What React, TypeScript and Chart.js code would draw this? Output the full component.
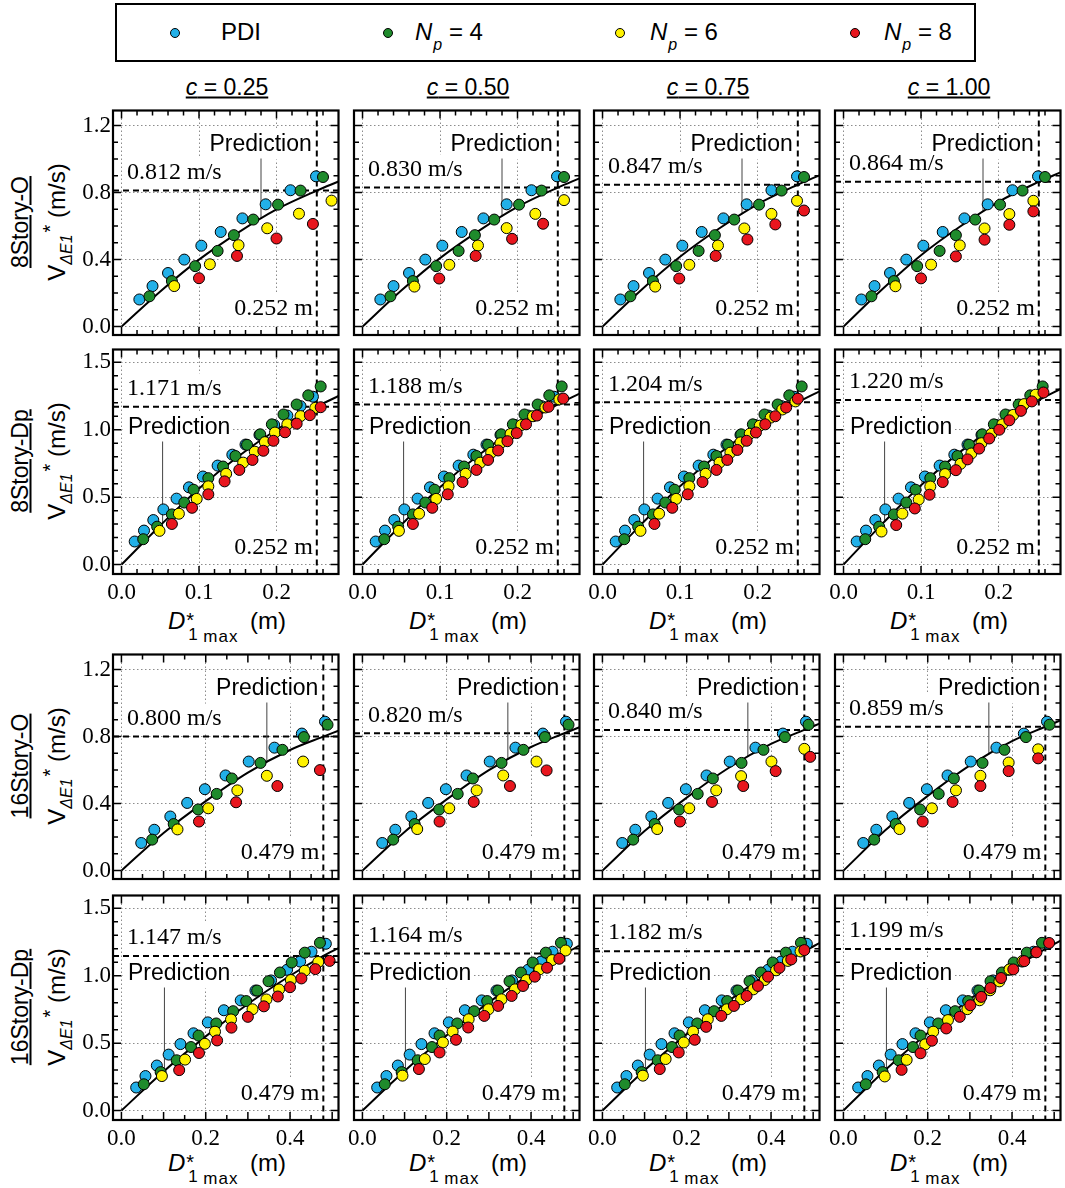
import React, { useEffect, useRef } from 'react';
import { Chart, registerables } from 'chart.js';

Chart.register(...registerables);

// ---------- data ----------
const columnLabels = ['0.25', '0.50', '0.75', '1.00'];
const rowNames = ['8Story-O', '8Story-Dp', '16Story-O', '16Story-Dp'];

// target velocity per row / column (m/s) and target displacement per row (m)
const targetV = [
  [0.812, 0.830, 0.847, 0.864],
  [1.171, 1.188, 1.204, 1.220],
  [0.800, 0.820, 0.840, 0.859],
  [1.147, 1.164, 1.182, 1.199],
];
const targetD = [0.252, 0.252, 0.479, 0.479];
const leaderX = [0.18, 0.053, 0.345, 0.102];

// prediction curve
const curveX8 = [0, 0.05, 0.1, 0.15, 0.2, 0.252, 0.28];
const curveX16 = [0, 0.1, 0.2, 0.3, 0.4, 0.479, 0.515];
const curve8O = [
  [0, 0.21, 0.40, 0.56, 0.70, 0.812, 0.866],
  [0, 0.215, 0.409, 0.572, 0.715, 0.830, 0.885],
  [0, 0.219, 0.417, 0.584, 0.730, 0.847, 0.903],
  [0, 0.223, 0.426, 0.596, 0.745, 0.864, 0.921],
];
const curve8D = [
  [0, 0.29, 0.565, 0.80, 1.0, 1.171, 1.25],
  [0, 0.294, 0.573, 0.812, 1.015, 1.188, 1.268],
  [0, 0.298, 0.581, 0.822, 1.028, 1.204, 1.285],
  [0, 0.302, 0.589, 0.834, 1.042, 1.220, 1.302],
];
const curve16O = [
  [0, 0.225, 0.415, 0.585, 0.72, 0.80, 0.835],
  [0, 0.231, 0.425, 0.600, 0.738, 0.82, 0.856],
  [0, 0.236, 0.436, 0.614, 0.756, 0.84, 0.877],
  [0, 0.242, 0.446, 0.628, 0.773, 0.859, 0.897],
];
const curve16D = [
  [0, 0.29, 0.55, 0.79, 1.0, 1.147, 1.205],
  [0, 0.294, 0.558, 0.802, 1.015, 1.164, 1.223],
  [0, 0.299, 0.567, 0.814, 1.03, 1.182, 1.242],
  [0, 0.303, 0.575, 0.826, 1.045, 1.199, 1.26],
];

// 8Story-O
const pdi8O_x = [0.023, 0.040, 0.060, 0.081, 0.103, 0.128, 0.156, 0.186, 0.218, 0.251];
const pdi8O_y = [0.162, 0.242, 0.320, 0.400, 0.483, 0.565, 0.646, 0.730, 0.814, 0.897];
const np4_8O_x = [0.036, 0.065, 0.095, 0.124, 0.145, 0.170, 0.202, 0.231, 0.260];
const np4_8O_y = [0.181, 0.272, 0.361, 0.452, 0.546, 0.639, 0.728, 0.812, 0.893];
const np6_8O_x = [
  [0.068, 0.114, 0.151, 0.188, 0.229, 0.271],
  [0.067, 0.112, 0.149, 0.186, 0.223, 0.260],
  [0.068, 0.112, 0.149, 0.183, 0.218, 0.251],
  [0.067, 0.113, 0.150, 0.182, 0.214, 0.245],
];
const np6_8O_y = [
  [0.242, 0.372, 0.486, 0.587, 0.674, 0.752],
  [0.239, 0.369, 0.484, 0.588, 0.673, 0.755],
  [0.239, 0.369, 0.484, 0.586, 0.673, 0.751],
  [0.241, 0.370, 0.485, 0.586, 0.672, 0.751],
];
const np8_8O_x = [
  [0.100, 0.149, 0.200, 0.247],
  [0.099, 0.146, 0.193, 0.233],
  [0.099, 0.146, 0.187, 0.223, 0.260],
  [0.100, 0.145, 0.182, 0.214, 0.245],
];
const np8_8O_y = [
  [0.289, 0.422, 0.526, 0.613],
  [0.287, 0.422, 0.524, 0.614],
  [0.287, 0.422, 0.520, 0.610, 0.693],
  [0.288, 0.419, 0.519, 0.608, 0.688],
];

// 8Story-Dp
const pdi8D_x = [0.017, 0.029, 0.041, 0.054, 0.071, 0.087, 0.105, 0.124, 0.143, 0.160, 0.178, 0.197, 0.214, 0.231, 0.247];
const pdi8D_y = [0.171, 0.252, 0.330, 0.409, 0.489, 0.573, 0.653, 0.734, 0.815, 0.890, 0.962, 1.035, 1.105, 1.175, 1.245];
const np4_8D_x = [0.028, 0.046, 0.065, 0.081, 0.093, 0.112, 0.131, 0.147, 0.162, 0.179, 0.194, 0.209, 0.226, 0.241, 0.257];
const np4_8D_y = [0.188, 0.281, 0.372, 0.460, 0.555, 0.641, 0.727, 0.805, 0.888, 0.966, 1.040, 1.113, 1.187, 1.255, 1.321];
const np6_8D_x = [
  [0.049, 0.074, 0.097, 0.112, 0.135, 0.157, 0.172, 0.185, 0.198, 0.214, 0.231, 0.250],
  [0.047, 0.073, 0.095, 0.111, 0.133, 0.152, 0.166, 0.178, 0.191, 0.205, 0.220, 0.236, 0.254],
  [0.049, 0.073, 0.095, 0.112, 0.133, 0.151, 0.165, 0.178, 0.190, 0.203, 0.217, 0.232, 0.249],
  [0.049, 0.076, 0.097, 0.112, 0.131, 0.151, 0.165, 0.178, 0.191, 0.205, 0.219, 0.233, 0.248],
];
const np6_8D_y = [
  [0.250, 0.377, 0.487, 0.580, 0.673, 0.756, 0.837, 0.908, 0.979, 1.040, 1.101, 1.162],
  [0.250, 0.377, 0.487, 0.580, 0.673, 0.756, 0.830, 0.900, 0.968, 1.035, 1.100, 1.165, 1.225],
  [0.250, 0.377, 0.487, 0.580, 0.673, 0.756, 0.830, 0.906, 0.970, 1.030, 1.090, 1.150, 1.210],
  [0.245, 0.378, 0.482, 0.579, 0.671, 0.747, 0.824, 0.900, 0.970, 1.040, 1.110, 1.190, 1.260],
];
const np8_8D_x = [
  [0.065, 0.091, 0.112, 0.133, 0.152, 0.169, 0.183, 0.196, 0.211, 0.226, 0.243, 0.257],
  [0.065, 0.090, 0.110, 0.129, 0.147, 0.162, 0.175, 0.187, 0.199, 0.211, 0.225, 0.240, 0.259],
  [0.067, 0.090, 0.110, 0.129, 0.147, 0.161, 0.174, 0.186, 0.198, 0.210, 0.223, 0.237, 0.252],
  [0.068, 0.092, 0.111, 0.128, 0.145, 0.160, 0.175, 0.188, 0.201, 0.214, 0.229, 0.243, 0.258],
];
const np8_8D_y = [
  [0.301, 0.421, 0.521, 0.617, 0.702, 0.776, 0.844, 0.918, 0.981, 1.045, 1.108, 1.167],
  [0.301, 0.421, 0.521, 0.612, 0.702, 0.776, 0.846, 0.915, 0.975, 1.040, 1.105, 1.170, 1.231],
  [0.301, 0.421, 0.521, 0.612, 0.702, 0.776, 0.850, 0.918, 0.980, 1.040, 1.100, 1.165, 1.230],
  [0.293, 0.416, 0.518, 0.612, 0.700, 0.780, 0.860, 0.935, 1.000, 1.070, 1.140, 1.210, 1.276],
];

// 16Story-O
const pdi16O_x = [0.047, 0.078, 0.116, 0.156, 0.198, 0.247, 0.302, 0.363, 0.428, 0.483];
const pdi16O_y = [0.165, 0.244, 0.323, 0.404, 0.486, 0.568, 0.651, 0.734, 0.818, 0.889];
const np4_16O_x = [0.073, 0.124, 0.182, 0.226, 0.262, 0.330, 0.382, 0.433, 0.489];
const np4_16O_y = [0.185, 0.278, 0.365, 0.458, 0.550, 0.643, 0.721, 0.797, 0.871];
const np6_16O_x = [
  [0.133, 0.206, 0.275, 0.345, 0.431],
  [0.130, 0.206, 0.271, 0.334, 0.413],
  [0.130, 0.206, 0.270, 0.329, 0.401, 0.479],
  [0.133, 0.210, 0.267, 0.325, 0.392, 0.462],
];
const np6_16O_y = [
  [0.246, 0.372, 0.479, 0.566, 0.651],
  [0.248, 0.372, 0.479, 0.568, 0.651],
  [0.248, 0.372, 0.479, 0.564, 0.651, 0.727],
  [0.248, 0.372, 0.479, 0.566, 0.645, 0.724],
];
const np8_16O_x = [
  [0.184, 0.272, 0.370, 0.471],
  [0.183, 0.264, 0.350, 0.437],
  [0.184, 0.260, 0.334, 0.411, 0.493],
  [0.188, 0.259, 0.325, 0.392, 0.462],
];
const np8_16O_y = [
  [0.293, 0.408, 0.505, 0.600],
  [0.293, 0.410, 0.505, 0.598],
  [0.293, 0.410, 0.505, 0.594, 0.679],
  [0.293, 0.410, 0.505, 0.594, 0.670],
];

// 16Story-Dp
const pdi16D_x = [0.035, 0.057, 0.084, 0.112, 0.140, 0.171, 0.205, 0.243, 0.283, 0.318, 0.355, 0.393, 0.424, 0.451, 0.485];
const pdi16D_y = [0.171, 0.256, 0.334, 0.415, 0.493, 0.573, 0.654, 0.744, 0.817, 0.890, 0.965, 1.044, 1.105, 1.178, 1.237];
const np4_16D_x = [0.053, 0.093, 0.131, 0.165, 0.183, 0.225, 0.265, 0.296, 0.322, 0.349, 0.376, 0.404, 0.435, 0.471];
const np4_16D_y = [0.195, 0.285, 0.373, 0.471, 0.556, 0.646, 0.737, 0.812, 0.890, 0.959, 1.024, 1.098, 1.171, 1.244];
const np6_16D_x = [
  [0.096, 0.151, 0.198, 0.222, 0.260, 0.311, 0.344, 0.374, 0.402, 0.435, 0.467],
  [0.095, 0.148, 0.191, 0.214, 0.252, 0.299, 0.330, 0.362, 0.389, 0.420, 0.450, 0.482],
  [0.096, 0.150, 0.193, 0.215, 0.250, 0.295, 0.329, 0.358, 0.385, 0.412, 0.440, 0.470],
  [0.098, 0.150, 0.194, 0.213, 0.248, 0.294, 0.323, 0.348, 0.370, 0.394, 0.425, 0.457],
];
const np6_16D_y = [
  [0.256, 0.378, 0.495, 0.585, 0.676, 0.751, 0.824, 0.898, 0.968, 1.037, 1.102],
  [0.259, 0.382, 0.505, 0.586, 0.677, 0.751, 0.825, 0.899, 0.968, 1.047, 1.116, 1.187],
  [0.259, 0.382, 0.505, 0.586, 0.677, 0.751, 0.825, 0.899, 0.968, 1.040, 1.110, 1.180],
  [0.253, 0.376, 0.491, 0.585, 0.671, 0.752, 0.818, 0.892, 0.958, 1.047, 1.110, 1.174],
];
const np8_16D_x = [
  [0.137, 0.184, 0.227, 0.261, 0.300, 0.338, 0.371, 0.400, 0.427, 0.460, 0.494],
  [0.134, 0.183, 0.222, 0.251, 0.289, 0.322, 0.354, 0.381, 0.409, 0.438, 0.467],
  [0.136, 0.181, 0.219, 0.246, 0.282, 0.312, 0.342, 0.369, 0.393, 0.420, 0.448, 0.479],
  [0.138, 0.183, 0.210, 0.244, 0.276, 0.301, 0.327, 0.349, 0.374, 0.403, 0.429, 0.458, 0.488],
];
const np8_16D_y = [
  [0.300, 0.427, 0.520, 0.615, 0.695, 0.773, 0.846, 0.915, 0.980, 1.049, 1.110],
  [0.308, 0.431, 0.525, 0.616, 0.702, 0.776, 0.850, 0.924, 0.993, 1.059, 1.126],
  [0.308, 0.431, 0.525, 0.621, 0.702, 0.776, 0.850, 0.924, 0.993, 1.059, 1.121, 1.190],
  [0.302, 0.425, 0.518, 0.609, 0.695, 0.781, 0.843, 0.909, 0.983, 1.047, 1.108, 1.174, 1.243],
];

// per-row lookups
const pdiX = [pdi8O_x, pdi8D_x, pdi16O_x, pdi16D_x];
const pdiY = [pdi8O_y, pdi8D_y, pdi16O_y, pdi16D_y];
const np4X = [np4_8O_x, np4_8D_x, np4_16O_x, np4_16D_x];
const np4Y = [np4_8O_y, np4_8D_y, np4_16O_y, np4_16D_y];
const np6X = [np6_8O_x, np6_8D_x, np6_16O_x, np6_16D_x];
const np6Y = [np6_8O_y, np6_8D_y, np6_16O_y, np6_16D_y];
const np8X = [np8_8O_x, np8_8D_x, np8_16O_x, np8_16D_x];
const np8Y = [np8_8O_y, np8_8D_y, np8_16O_y, np8_16D_y];
const curveX = [curveX8, curveX8, curveX16, curveX16];
const curveY = [curve8O, curve8D, curve16O, curve16D];

// ---------- layout / style ----------
const COL_LEFT = [113, 354, 594, 835];
const ROW_TOP = [108, 347, 652, 893];
const PW = 228;
const PH = 227;
const AXW = 48;
const AXH = 34;
const PAD = 4;

const xRange = [[-0.011, 0.28], [-0.011, 0.28], [-0.02, 0.515], [-0.02, 0.515]];
const yRange = [[-0.05, 1.29], [-0.07, 1.595], [-0.05, 1.29], [-0.07, 1.595]];
const xStep = [0.1, 0.1, 0.2, 0.2];
const yStep = [0.4, 0.5, 0.4, 0.5];
const xMinor = [0.02, 0.02, 0.05, 0.05];

const BLUE = '#22b0e8';
const GREEN = '#1f8b2c';
const YELLOW = '#fff200';
const RED = '#e8161e';

const SERIF = "'Liberation Serif', 'Times New Roman', serif";
const SANS = "'Liberation Sans', Arial, sans-serif";

function curveAt(xs: number[], ys: number[], v: number) {
  for (let i = 1; i < xs.length; i++) {
    if (v <= xs[i]) {
      const t = (v - xs[i - 1]) / (xs[i] - xs[i - 1]);
      return ys[i - 1] + t * (ys[i] - ys[i - 1]);
    }
  }
  return ys[ys.length - 1];
}

const points = (xs: number[], ys: number[]) => xs.map((v, i) => ({ x: v, y: ys[i] }));

const scatterSet = (label: string, xs: number[], ys: number[], color: string) => ({
  label,
  data: points(xs, ys),
  backgroundColor: color,
  borderColor: '#000',
  borderWidth: 1,
  pointRadius: 5.5,
  pointHoverRadius: 5.5,
});

const Panel: React.FC<{ r: number; c: number }> = ({ r, c }) => {
  const chartRef = useRef<HTMLCanvasElement>(null);

  useEffect(() => {
    if (!chartRef.current) return;
    const cx = curveX[r];
    const cy = curveY[r][c];

    const annot = {
      id: 'annot',
      beforeDatasetsDraw(chart: any) {
        const { ctx, chartArea: a } = chart;
        const xs = chart.scales.x;
        const ys = chart.scales.y;
        const vPx = ys.getPixelForValue(targetV[r][c]);
        const dPx = xs.getPixelForValue(targetD[r]);
        ctx.save();
        ctx.textBaseline = 'middle';

        ctx.font = `24px ${SERIF}`;
        const vText = `${targetV[r][c].toFixed(3)} m/s`;
        const vW = ctx.measureText(vText).width;
        const vx = a.left + 14;
        const vy = vPx - 18;
        const dText = `${targetD[r].toFixed(3)} m`;
        const dW = ctx.measureText(dText).width;
        const dx = dPx - 4 - dW;
        const dy = a.bottom - 26;

        ctx.font = `23px ${SANS}`;
        const pText = 'Prediction';
        const pW = ctx.measureText(pText).width;
        const onTop = r % 2 === 0;
        const px = onTop ? dPx - 5 - pW : a.left + 15;
        const py = onTop ? a.top + 34 : a.top + 78;

        // white boxes behind labels
        ctx.fillStyle = '#fff';
        ctx.fillRect(vx - 4, vy - 15, vW + 8, 30);
        ctx.fillRect(dx - 4, dy - 15, dW + 6, 30);
        ctx.fillRect(px - 4, py - 15, pW + 6, 30);

        // dashed target lines
        ctx.strokeStyle = '#000';
        ctx.lineWidth = 2;
        ctx.setLineDash([6, 4]);
        ctx.beginPath();
        ctx.moveTo(a.left, vPx);
        ctx.lineTo(a.right, vPx);
        ctx.moveTo(dPx, a.top);
        ctx.lineTo(dPx, a.bottom);
        ctx.stroke();
        ctx.setLineDash([]);

        // leader line for "Prediction"
        const lx = xs.getPixelForValue(leaderX[r]);
        const ly = ys.getPixelForValue(curveAt(cx, cy, leaderX[r]));
        ctx.strokeStyle = '#444';
        ctx.lineWidth = 1;
        ctx.beginPath();
        ctx.moveTo(lx, py + 14);
        ctx.lineTo(lx, ly);
        ctx.stroke();

        ctx.fillStyle = '#000';
        ctx.font = `24px ${SERIF}`;
        ctx.fillText(vText, vx, vy);
        ctx.fillText(dText, dx, dy);
        ctx.font = `23px ${SANS}`;
        ctx.fillText(pText, px, py);
        ctx.restore();
      },
      afterDraw(chart: any) {
        const { ctx, chartArea: a } = chart;
        const xs = chart.scales.x;
        const ys = chart.scales.y;
        ctx.save();
        ctx.strokeStyle = '#000';
        ctx.lineWidth = 1.5;
        ctx.beginPath();
        // inward ticks, x (bottom + top)
        const xm = xMinor[r];
        for (let k = Math.ceil(xs.min / xm - 1e-9); k * xm <= xs.max + 1e-9; k++) {
          const v = k * xm;
          const p = xs.getPixelForValue(v);
          if (p < a.left + 1 || p > a.right - 1) continue;
          const major = Math.abs(v / 0.1 - Math.round(v / 0.1)) < 1e-6;
          const len = major ? 8 : 5;
          ctx.moveTo(p, a.bottom);
          ctx.lineTo(p, a.bottom - len);
          ctx.moveTo(p, a.top);
          ctx.lineTo(p, a.top + len);
        }
        // inward ticks, y (left + right)
        const ym = 0.1;
        for (let k = Math.ceil(ys.min / ym - 1e-9); k * ym <= ys.max + 1e-9; k++) {
          const v = k * ym;
          const p = ys.getPixelForValue(v);
          if (p < a.top + 1 || p > a.bottom - 1) continue;
          const st = yStep[r];
          const major = Math.abs(v / st - Math.round(v / st)) < 1e-6;
          const len = major ? 8 : 5;
          ctx.moveTo(a.left, p);
          ctx.lineTo(a.left + len, p);
          ctx.moveTo(a.right, p);
          ctx.lineTo(a.right - len, p);
        }
        ctx.stroke();
        ctx.lineWidth = 2.2;
        ctx.strokeRect(a.left, a.top, a.right - a.left, a.bottom - a.top);
        ctx.restore();
      },
    };

    const chart = new Chart(chartRef.current, {
      type: 'scatter',
      data: {
        datasets: [
          scatterSet('N_p = 8', np8X[r][c], np8Y[r][c], RED),
          scatterSet('N_p = 6', np6X[r][c], np6Y[r][c], YELLOW),
          scatterSet('N_p = 4', np4X[r], np4Y[r], GREEN),
          scatterSet('PDI', pdiX[r], pdiY[r], BLUE),
          {
            label: 'Prediction',
            data: points(cx, cy),
            showLine: true,
            borderColor: '#000',
            backgroundColor: '#000',
            borderWidth: 2,
            pointRadius: 0,
            pointHoverRadius: 0,
            cubicInterpolationMode: 'monotone',
            fill: false,
          } as any,
        ],
      },
      options: {
        animation: false,
        responsive: true,
        maintainAspectRatio: false,
        layout: { padding: { left: 0, top: PAD, right: PAD, bottom: 0 } },
        plugins: { legend: { display: false }, tooltip: { enabled: false } },
        events: [],
        scales: {
          x: {
            type: 'linear',
            min: xRange[r][0],
            max: xRange[r][1],
            afterFit: (s: any) => {
              s.height = AXH;
              s.paddingLeft = 0;
              s.paddingRight = 0;
            },
            ticks: {
              display: r === 1 || r === 3,
              stepSize: xStep[r],
              includeBounds: false,
              autoSkip: false,
              maxRotation: 0,
              padding: 5,
              color: '#000',
              font: { family: SERIF, size: 23 },
              callback: (v: any) => Number(v).toFixed(1),
            },
            grid: { color: '#8c8c8c', lineWidth: 1, drawTicks: false },
            border: { display: false, dash: [1.5, 2.5] },
          },
          y: {
            type: 'linear',
            min: yRange[r][0],
            max: yRange[r][1],
            afterFit: (s: any) => {
              s.width = AXW;
              s.paddingTop = 0;
              s.paddingBottom = 0;
            },
            ticks: {
              display: c === 0,
              stepSize: yStep[r],
              includeBounds: false,
              autoSkip: false,
              padding: 2,
              color: '#000',
              font: { family: SERIF, size: 23 },
              callback: (v: any) => Number(v).toFixed(1),
            },
            grid: { color: '#8c8c8c', lineWidth: 1, drawTicks: false },
            border: { display: false, dash: [1.5, 2.5] },
          },
        },
      },
      plugins: [annot],
    } as any);

    return () => chart.destroy();
  }, [r, c]);

  return (
    <div
      style={{
        position: 'absolute',
        left: COL_LEFT[c] - AXW,
        top: ROW_TOP[r] - PAD,
        width: AXW + PW + PAD,
        height: PAD + PH + AXH,
      }}
    >
      <canvas ref={chartRef}></canvas>
    </div>
  );
};

const rotated = (cx: number, cy: number): React.CSSProperties => ({
  position: 'absolute',
  left: cx,
  top: cy,
  transform: 'translate(-50%, -50%) rotate(-90deg)',
  whiteSpace: 'nowrap',
  fontFamily: SANS,
});

const LegendMarker: React.FC<{ x: number; color: string }> = ({ x, color }) => (
  <div
    style={{
      position: 'absolute',
      left: x - 5,
      top: 28,
      width: 10,
      height: 10,
      borderRadius: '50%',
      background: color,
      border: '1px solid #000',
      boxSizing: 'border-box',
    }}
  />
);

const NpLabel: React.FC<{ x: number; n: string }> = ({ x, n }) => (
  <div style={{ position: 'absolute', left: x, top: 18, fontFamily: SANS, fontSize: 24, whiteSpace: 'nowrap', lineHeight: '28px' }}>
    <i>N</i>
    <span style={{ position: 'relative', top: 10, fontSize: 16, fontStyle: 'italic', marginLeft: 1 }}>p</span>
    {` = ${n}`}
  </div>
);

const XTitle: React.FC<{ cx: number; cy: number }> = ({ cx, cy }) => (
  <div
    style={{
      position: 'absolute',
      left: cx,
      top: cy,
      transform: 'translate(-50%, -50%)',
      fontFamily: SANS,
      fontSize: 24,
      whiteSpace: 'nowrap',
      lineHeight: '28px',
    }}
  >
    <i>D</i>
    <span style={{ display: 'inline-block', position: 'relative', width: 58, height: 10 }}>
      <span style={{ position: 'absolute', left: 1, top: -13, fontSize: 20 }}>*</span>
      <span style={{ position: 'absolute', left: 3, top: 2, fontSize: 17 }}>1</span>
      <span style={{ position: 'absolute', left: 18, top: 4, fontSize: 17, letterSpacing: 1 }}>max</span>
    </span>
    {' (m)'}
  </div>
);

const App: React.FC = () => {
  const cells: React.ReactNode[] = [];
  for (let r = 0; r < 4; r++) {
    for (let c = 0; c < 4; c++) {
      cells.push(<Panel key={`${r}-${c}`} r={r} c={c} />);
    }
  }
  return (
    <div style={{ position: 'relative', width: 1065, height: 1188, background: '#fff', overflow: 'hidden' }}>
      <style>{'body{margin:0;}'}</style>

      {/* legend */}
      <div
        style={{
          position: 'absolute',
          left: 115,
          top: 3,
          width: 861,
          height: 59,
          border: '2px solid #000',
          boxSizing: 'border-box',
        }}
      />
      <LegendMarker x={175} color={BLUE} />
      <div style={{ position: 'absolute', left: 221, top: 18, fontFamily: SANS, fontSize: 24, lineHeight: '28px' }}>PDI</div>
      <LegendMarker x={388} color={GREEN} />
      <NpLabel x={415} n="4" />
      <LegendMarker x={620} color={YELLOW} />
      <NpLabel x={650} n="6" />
      <LegendMarker x={855} color={RED} />
      <NpLabel x={884} n="8" />

      {/* column headers */}
      {columnLabels.map((lab, c) => (
        <div
          key={lab}
          style={{
            position: 'absolute',
            left: COL_LEFT[c] + PW / 2,
            top: 87,
            transform: 'translate(-50%, -50%)',
            fontFamily: SANS,
            fontSize: 23,
            textDecoration: 'underline',
            whiteSpace: 'nowrap',
          }}
        >
          <i>c</i>{` = ${lab}`}
        </div>
      ))}

      {/* row labels and y titles */}
      {rowNames.map((name, r) => (
        <React.Fragment key={name}>
          <div style={{ ...rotated(20, ROW_TOP[r] + PH / 2), fontSize: 23, textDecoration: 'underline' }}>{name}</div>
          <div style={{ ...rotated(58, ROW_TOP[r] + PH / 2), fontSize: 24, lineHeight: '28px' }}>
            V
            <span style={{ position: 'relative', top: 7, fontSize: 16, fontStyle: 'italic' }}>ΔE1</span>
            <span style={{ position: 'relative', top: -8, fontSize: 20, marginLeft: 2 }}>*</span>
            {' (m/s)'}
          </div>
        </React.Fragment>
      ))}

      {/* x titles */}
      {COL_LEFT.map((l) => (
        <React.Fragment key={l}>
          <XTitle cx={l + PW / 2} cy={621} />
          <XTitle cx={l + PW / 2} cy={1163} />
        </React.Fragment>
      ))}

      {cells}
    </div>
  );
};

export default App;
